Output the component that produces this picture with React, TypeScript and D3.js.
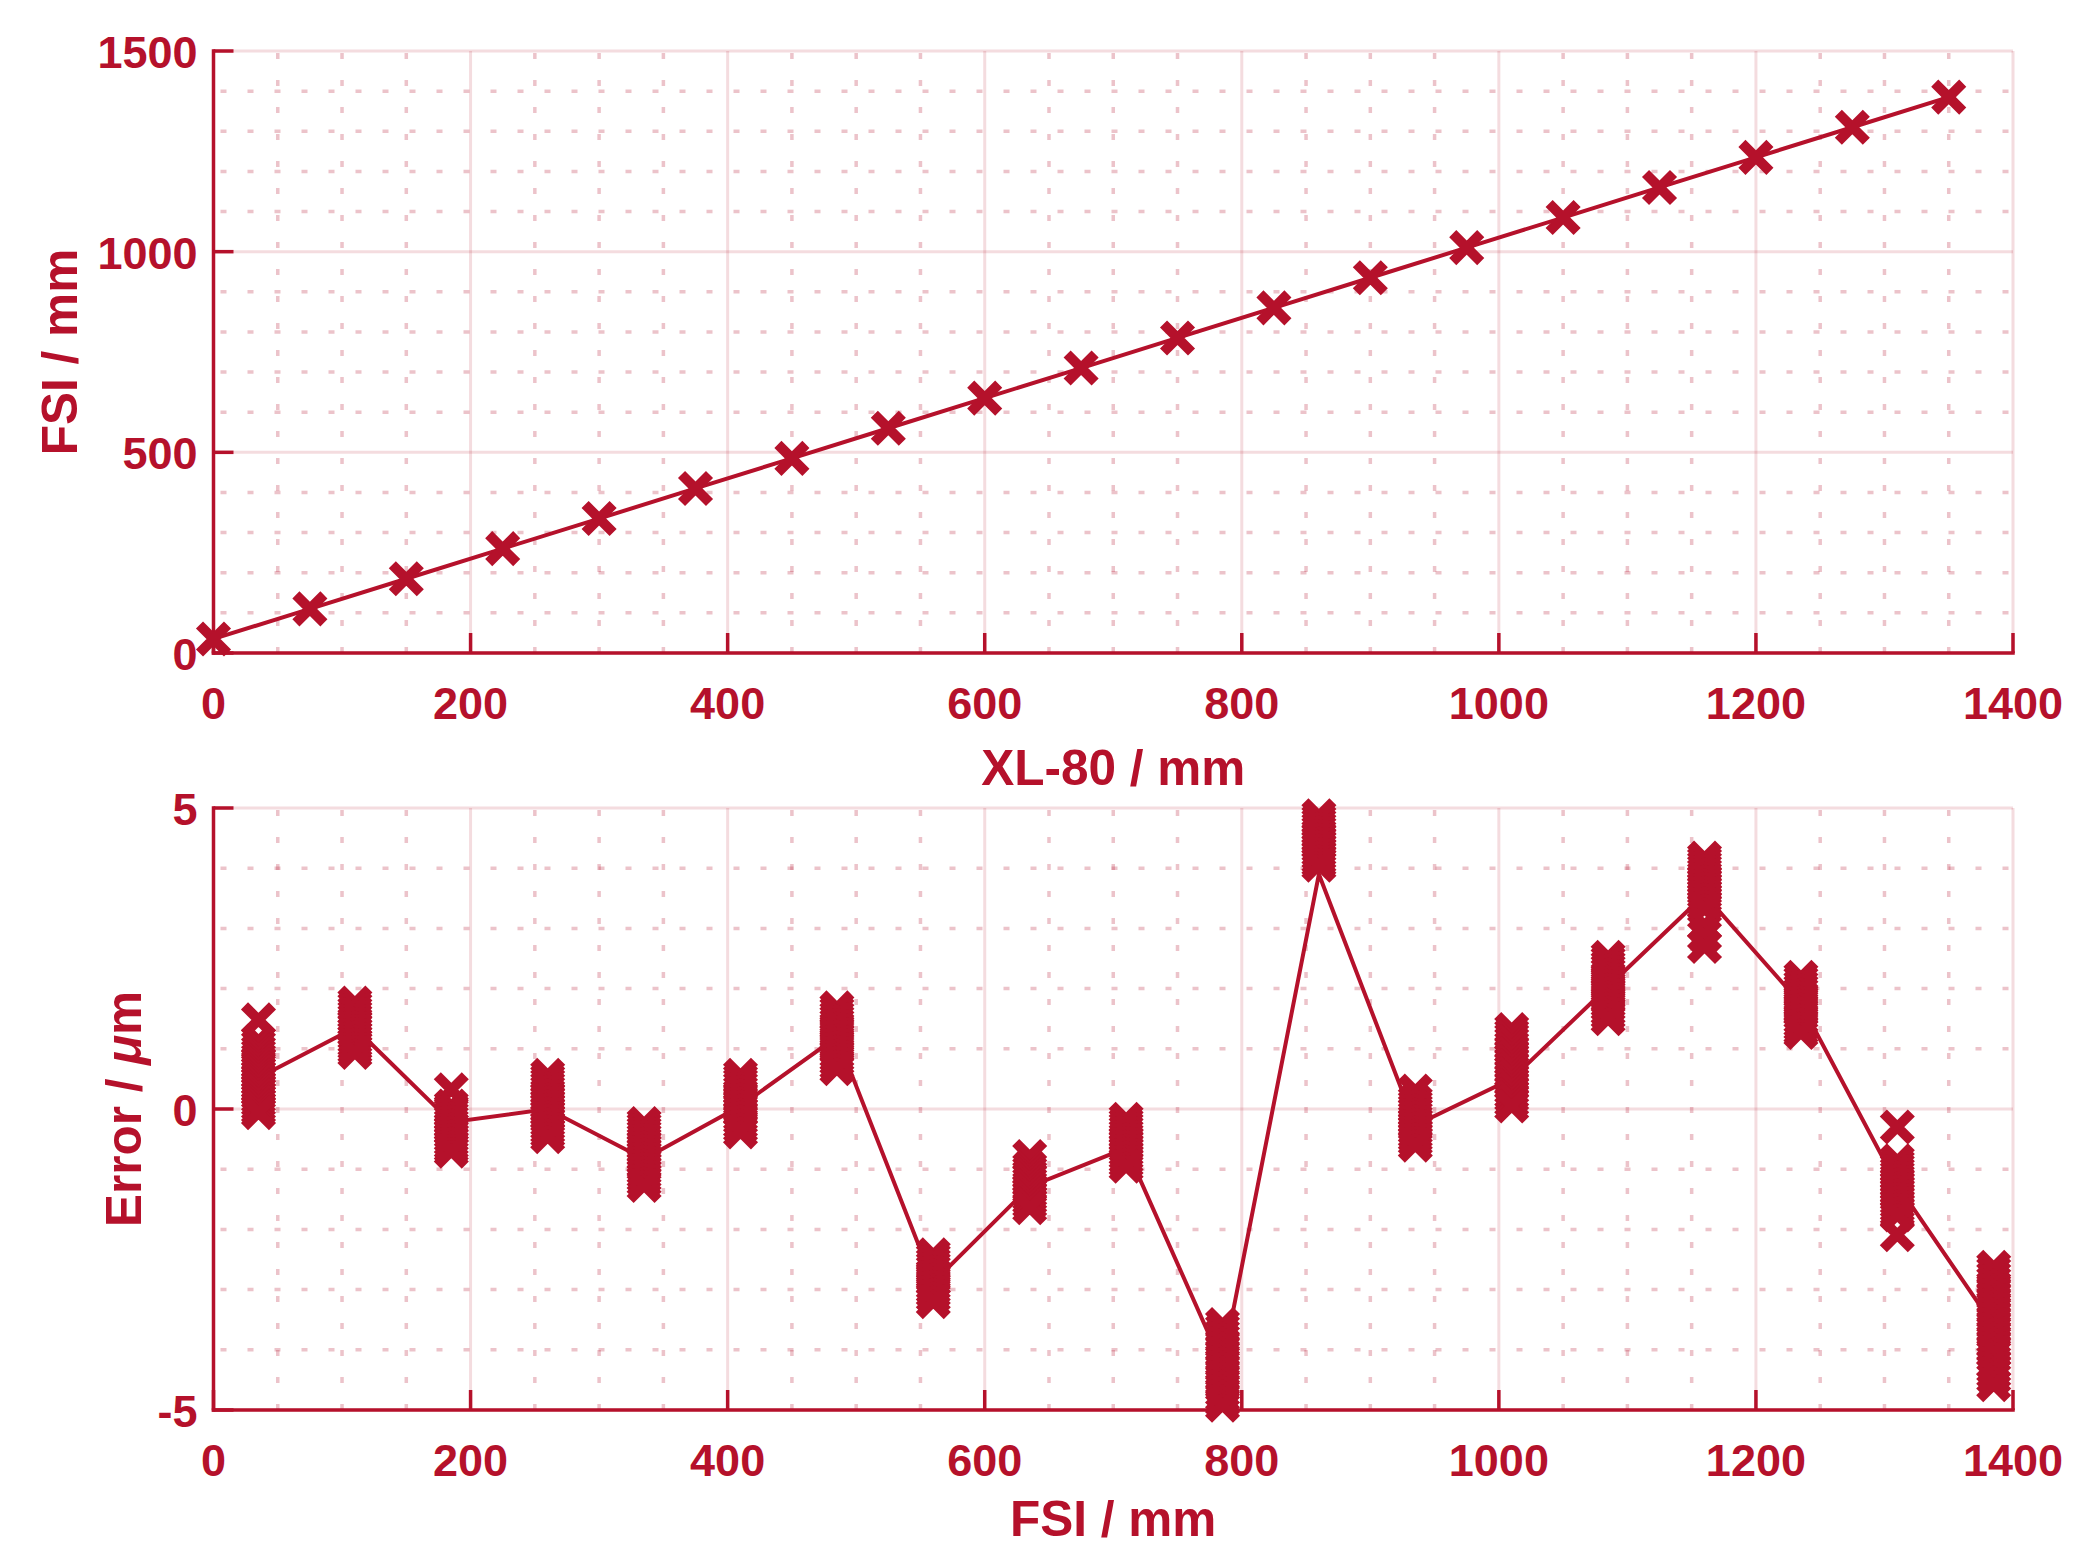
import React from 'react';
import * as d3 from 'd3';

// ---------- data ----------
const xl80 = [0, 75, 150, 225, 300, 375, 450, 525, 600, 675, 750, 825, 900, 975, 1050, 1125, 1200, 1275, 1350];
const fsiTop = [35, 110, 185, 260, 335, 410, 485, 560, 635, 710, 785, 860, 935, 1010, 1085, 1160, 1235, 1310, 1385];

const fsiPos = [35, 110, 185, 260, 335, 410, 485, 560, 635, 710, 785, 860, 935, 1010, 1085, 1160, 1235, 1310, 1385];
const errLine = [0.52, 1.35, -0.22, 0.0, -0.83, 0.05, 1.2, -2.88, -1.29, -0.65, -4.25, 3.9, -0.27, 0.5, 2.03, 3.56, 1.75, -1.26, -3.6];

const e01 = [1.48, 1.13, 1.06, 0.98, 0.92, 0.85, 0.8, 0.74, 0.68, 0.63, 0.57, 0.52, 0.46, 0.4, 0.35, 0.29, 0.23, 0.17, 0.11, 0.05, -0.01, -0.06];
const e02 = [1.76, 1.7, 1.63, 1.57, 1.51, 1.45, 1.4, 1.34, 1.28, 1.22, 1.16, 1.1, 1.05, 0.99, 0.94];
const e03 = [0.32, 0.05, 0.0, -0.06, -0.12, -0.18, -0.24, -0.3, -0.36, -0.42, -0.48, -0.54, -0.6, -0.65, -0.7];
const e04 = [0.56, 0.5, 0.44, 0.38, 0.32, 0.26, 0.2, 0.14, 0.08, 0.02, -0.04, -0.1, -0.16, -0.22, -0.28, -0.34, -0.4, -0.46];
const e05 = [-0.24, -0.3, -0.36, -0.42, -0.48, -0.54, -0.6, -0.66, -0.72, -0.78, -0.84, -0.9, -0.96, -1.02, -1.08, -1.14, -1.2, -1.27];
const e06 = [0.56, 0.5, 0.44, 0.38, 0.31, 0.25, 0.19, 0.13, 0.07, 0.01, -0.05, -0.12, -0.18, -0.25, -0.31, -0.38];
const e07 = [1.68, 1.62, 1.55, 1.49, 1.43, 1.37, 1.3, 1.24, 1.18, 1.11, 1.05, 0.99, 0.92, 0.86, 0.8, 0.73, 0.67];
const e08 = [-2.42, -2.48, -2.55, -2.61, -2.67, -2.74, -2.8, -2.86, -2.93, -2.99, -3.05, -3.12, -3.2];
const e09 = [-0.79, -0.97, -1.03, -1.09, -1.15, -1.21, -1.27, -1.33, -1.39, -1.45, -1.51, -1.57, -1.64];
const e10 = [-0.17, -0.23, -0.29, -0.35, -0.41, -0.47, -0.53, -0.59, -0.65, -0.71, -0.77, -0.83, -0.89, -0.95];
const e11 = [-3.58, -3.66, -3.74, -3.82, -3.9, -3.98, -4.06, -4.14, -4.22, -4.3, -4.38, -4.46, -4.54, -4.62, -4.7, -4.78, -4.86, -4.92];
const e12 = [4.87, 4.81, 4.75, 4.69, 4.63, 4.57, 4.51, 4.45, 4.39, 4.33, 4.27, 4.21, 4.15, 4.1, 4.05];
const e13 = [0.3, 0.13, 0.07, 0.01, -0.05, -0.11, -0.17, -0.23, -0.29, -0.35, -0.41, -0.47, -0.53, -0.6];
const e14 = [1.32, 1.25, 1.19, 1.12, 1.05, 0.99, 0.92, 0.85, 0.79, 0.72, 0.65, 0.59, 0.52, 0.45, 0.39, 0.32, 0.25, 0.19, 0.12, 0.05];
const e15 = [2.52, 2.46, 2.39, 2.33, 2.27, 2.2, 2.14, 2.08, 2.01, 1.95, 1.89, 1.82, 1.76, 1.7, 1.63, 1.57, 1.5];
const e16 = [4.17, 4.11, 4.05, 3.99, 3.93, 3.87, 3.81, 3.75, 3.69, 3.63, 3.57, 3.51, 3.45, 3.39, 3.33, 3.05, 2.88, 2.7];
const e17 = [2.19, 2.13, 2.06, 2.0, 1.94, 1.87, 1.81, 1.75, 1.68, 1.62, 1.56, 1.49, 1.43, 1.37, 1.31, 1.27];
const e18 = [-0.3, -0.86, -0.92, -0.98, -1.04, -1.1, -1.16, -1.22, -1.28, -1.34, -1.4, -1.46, -1.52, -1.58, -1.64, -1.7, -1.76, -2.09];
const e19 = [-2.63, -2.7, -2.78, -2.86, -2.94, -3.02, -3.1, -3.18, -3.26, -3.34, -3.42, -3.5, -3.58, -3.66, -3.74, -3.82, -3.9, -3.98, -4.05, -4.23, -4.31, -4.39, -4.47, -4.58];
const errorSamples = [e01, e02, e03, e04, e05, e06, e07, e08, e09, e10, e11, e12, e13, e14, e15, e16, e17, e18, e19];

const xTicks = [0, 200, 400, 600, 800, 1000, 1200, 1400];
const yTicksTop = [0, 500, 1000, 1500];
const yTicksBot = [-5, 0, 5];

// ---------- style ----------
const W = 2073;
const H = 1546;
const RED = '#b5112b';
const FONT = '"Liberation Sans", Arial, Helvetica, sans-serif';
const TICK_FS = 45;
const LABEL_FS = 49.5;
const M = 14; // marker half size

const xMinor = d3.range(50, 1400, 50).filter((v) => v % 200 !== 0);

function Marker({ x, y }: { x: number; y: number }) {
  return (
    <path
      d={`M${x - M},${y - M}L${x + M},${y + M}M${x - M},${y + M}L${x + M},${y - M}`}
      stroke={RED}
      strokeWidth={10}
      fill="none"
    />
  );
}

function Panel({
  x,
  y,
  yTicks,
  yMinor,
  xLabel,
  yLabel,
  yLabelX,
  xLabelDy,
  children,
}: {
  x: d3.ScaleLinear<number, number>;
  y: d3.ScaleLinear<number, number>;
  yTicks: number[];
  yMinor: number[];
  xLabel: React.ReactNode;
  yLabel: React.ReactNode;
  yLabelX: number;
  xLabelDy: number;
  children: React.ReactNode;
}) {
  const [x0, x1] = x.range();
  const [y0, y1] = y.range(); // y0 bottom, y1 top
  return (
    <g>
      {/* minor grid */}
      {xMinor.map((v) => (
        <line key={'xm' + v} x1={x(v)} x2={x(v)} y1={y1} y2={y0} stroke={RED} strokeOpacity={0.25}
          strokeWidth={3.5} strokeDasharray="6 21" strokeDashoffset={-2} />
      ))}
      {yMinor.map((v) => (
        <line key={'ym' + v} x1={x0} x2={x1} y1={y(v)} y2={y(v)} stroke={RED} strokeOpacity={0.25}
          strokeWidth={3.5} strokeDasharray="6 21" strokeDashoffset={20} />
      ))}
      {/* major grid */}
      {xTicks.map((v) => (
        <line key={'xg' + v} x1={x(v)} x2={x(v)} y1={y1} y2={y0} stroke={RED} strokeOpacity={0.15} strokeWidth={3} />
      ))}
      {yTicks.map((v) => (
        <line key={'yg' + v} x1={x0} x2={x1} y1={y(v)} y2={y(v)} stroke={RED} strokeOpacity={0.15} strokeWidth={3} />
      ))}
      {/* axes */}
      <line x1={x0} x2={x1} y1={y0} y2={y0} stroke={RED} strokeWidth={3.5} strokeLinecap="square" />
      <line x1={x0} x2={x0} y1={y0} y2={y1} stroke={RED} strokeWidth={3.5} strokeLinecap="square" />
      {xTicks.map((v) => (
        <line key={'xt' + v} x1={x(v)} x2={x(v)} y1={y0} y2={y0 - 20} stroke={RED} strokeWidth={3.5} />
      ))}
      {yTicks.map((v) => (
        <line key={'yt' + v} x1={x0} x2={x0 + 20} y1={y(v)} y2={y(v)} stroke={RED} strokeWidth={3.5} />
      ))}
      {/* data */}
      {children}
      {/* tick labels */}
      {xTicks.map((v) => (
        <text key={'xl' + v} x={x(v)} y={y0 + 66} textAnchor="middle" fontSize={TICK_FS} fontWeight="bold"
          fontFamily={FONT} fill={RED}>{v}</text>
      ))}
      {yTicks.map((v) => (
        <text key={'yl' + v} x={x0 - 16} y={y(v) + 17} textAnchor="end" fontSize={TICK_FS} fontWeight="bold"
          fontFamily={FONT} fill={RED}>{v}</text>
      ))}
      <text x={(x0 + x1) / 2} y={y0 + xLabelDy} textAnchor="middle" fontSize={LABEL_FS} fontWeight="bold"
        fontFamily={FONT} fill={RED}>{xLabel}</text>
      <text transform={`translate(${yLabelX},${(y0 + y1) / 2}) rotate(-90)`} textAnchor="middle" fontSize={LABEL_FS}
        fontWeight="bold" fontFamily={FONT} fill={RED}>{yLabel}</text>
    </g>
  );
}

export default function App() {
  const xT = d3.scaleLinear().domain([0, 1400]).range([213.5, 2013]);
  const yT = d3.scaleLinear().domain([0, 1500]).range([653, 51]);
  const xB = d3.scaleLinear().domain([0, 1400]).range([213.5, 2013]);
  const yB = d3.scaleLinear().domain([-5, 5]).range([1410, 808]);

  const topLine = d3.line<number>().x((_, i) => xT(xl80[i])).y((d) => yT(d))(fsiTop) || '';
  const botLine = d3.line<number>().x((_, i) => xB(fsiPos[i])).y((d) => yB(d))(errLine) || '';

  return (
    <svg width={W} height={H} style={{ position: 'absolute', left: 0, top: 0, background: '#fff' }}>
      <rect width={W} height={H} fill="#fff" />
      <Panel x={xT} y={yT} yTicks={yTicksTop} yMinor={d3.range(100, 1500, 100).filter((v) => v % 500 !== 0)}
        xLabel="XL-80 / mm" yLabel="FSI / mm" yLabelX={77} xLabelDy={132}>
        <path d={topLine} fill="none" stroke={RED} strokeWidth={4} />
        {fsiTop.map((v, i) => (
          <Marker key={i} x={xT(xl80[i])} y={yT(v)} />
        ))}
      </Panel>
      <Panel x={xB} y={yB} yTicks={yTicksBot} yMinor={[-4, -3, -2, -1, 1, 2, 3, 4]}
        xLabel="FSI / mm"
        yLabel={<>Error / <tspan fontStyle="italic">μ</tspan>m</>}
        yLabelX={141} xLabelDy={126}>
        <path d={botLine} fill="none" stroke={RED} strokeWidth={4} />
        {errorSamples.map((arr, i) =>
          arr.map((v, j) => <Marker key={i + '-' + j} x={xB(fsiPos[i])} y={yB(v)} />)
        )}
      </Panel>
    </svg>
  );
}
